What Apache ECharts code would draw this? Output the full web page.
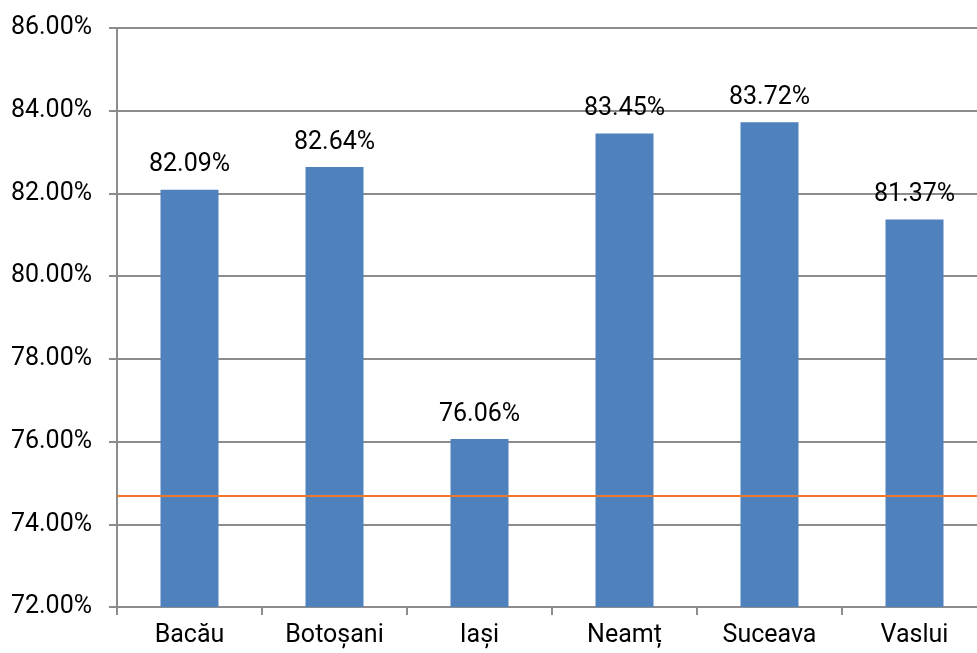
<!DOCTYPE html>
<html>
<head>
<meta charset="utf-8">
<script src="https://cdn.jsdelivr.net/npm/echarts@6/dist/echarts.min.js"></script>
<style>
  html, body { margin: 0; padding: 0; background: #fff; }
  #chart { width: 977px; height: 653px; }
</style>
</head>
<body>
<div id="chart"></div>
<script>
  // categorii si valori
  var judete = ['Bacău', 'Botoșani', 'Iași', 'Neamț', 'Suceava', 'Vaslui'];
  var valori = [82.09, 82.64, 76.06, 83.45, 83.72, 81.37];
  var mediaRegionala = 74.68; // linia portocalie
  var yMin = 72, yMax = 86, yPas = 2;

  var font = 'Roboto';
  var marime = 25;
  var chart = echarts.init(document.getElementById('chart'));
  var option = {
    animation: false,
    textStyle: { fontFamily: font },
    grid: { left: 117, top: 28, bottom: 46, width: 870, outerBoundsMode: 'none', containLabel: false },
    xAxis: {
      type: 'category',
      data: judete,
      axisLine: { lineStyle: { color: '#8c8c8c', width: 2 } },
      axisTick: { show: true, length: 8, lineStyle: { color: '#8c8c8c', width: 2 } },
      axisLabel: { color: '#000', fontSize: marime, margin: 16, fontFamily: font }
    },
    yAxis: {
      type: 'value',
      min: yMin,
      max: yMax,
      interval: yPas,
      axisLine: { show: true, lineStyle: { color: '#8c8c8c', width: 2 } },
      axisTick: { show: true, length: 8, lineStyle: { color: '#8c8c8c', width: 2 } },
      splitLine: { lineStyle: { color: '#8c8c8c', width: 2 } },
      axisLabel: {
        color: '#000', fontSize: marime, margin: 25, fontFamily: font,
        formatter: function (v) { return v.toFixed(2) + '%'; }
      }
    },
    series: [{
      type: 'bar',
      data: valori,
      barWidth: '40%',
      itemStyle: { color: '#4F81BD' },
      label: {
        show: true,
        position: 'top',
        distance: 12,
        color: '#000',
        fontSize: marime,
        fontFamily: font,
        formatter: function (p) { return p.value.toFixed(2) + '%'; }
      },
      markLine: {
        silent: true,
        symbol: 'none',
        label: { show: false },
        lineStyle: { color: '#F0782C', width: 2, type: 'solid' },
        data: [{ yAxis: mediaRegionala }]
      }
    }]
  };
  chart.setOption(option);
</script>
</body>
</html>
